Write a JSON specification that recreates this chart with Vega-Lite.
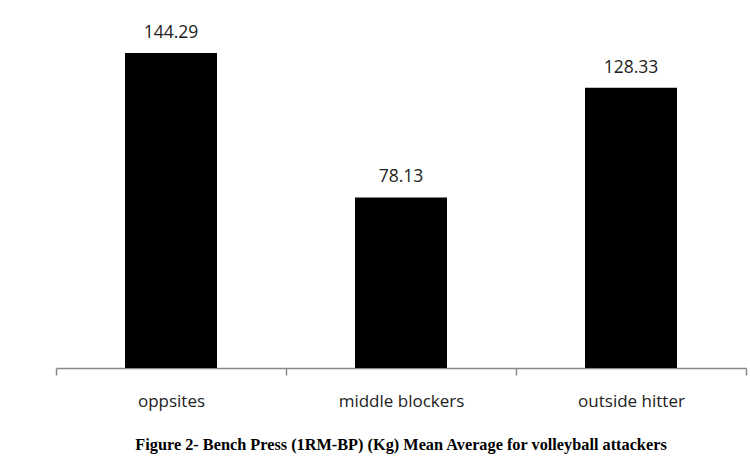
{
  "$schema": "https://vega.github.io/schema/vega-lite/v6.json",
  "autosize": "none",
  "width": 690,
  "height": 358,
  "padding": {"left": 56, "top": 10, "right": 4, "bottom": 103},
  "background": "white",
  "config": {"view": {"stroke": null}},
  "title": {
    "text": "Figure 2- Bench Press (1RM-BP) (Kg) Mean Average for volleyball attackers",
    "orient": "bottom",
    "anchor": "middle",
    "font": "Liberation Serif",
    "fontSize": 16.3,
    "fontWeight": "bold",
    "color": "black",
    "offset": 28
  },
  "data": {
    "values": [
      {"position": "oppsites", "value": 144.29},
      {"position": "middle blockers", "value": 78.13},
      {"position": "outside hitter", "value": 128.33}
    ]
  },
  "encoding": {
    "x": {
      "field": "position",
      "type": "nominal",
      "sort": null,
      "scale": {"paddingInner": 0, "paddingOuter": 0},
      "axis": {
        "title": null,
        "labelAngle": 0,
        "tickBand": "extent",
        "domainColor": "#888888",
        "domainWidth": 1.5,
        "tickColor": "#888888",
        "tickWidth": 1.5,
        "tickSize": 7,
        "labelFont": "Open Sans",
        "labelFontSize": 17,
        "labelColor": "#222222",
        "labelPadding": 18
      }
    },
    "y": {
      "field": "value",
      "type": "quantitative",
      "scale": {"domain": [0, 164]},
      "axis": null
    }
  },
  "layer": [
    {"mark": {"type": "bar", "color": "black", "width": {"band": 0.4}}},
    {
      "mark": {"type": "text", "dy": -20, "font": "Open Sans", "fontSize": 17.5, "color": "#222222"},
      "encoding": {"text": {"field": "value", "type": "quantitative", "format": ".2f"}}
    }
  ]
}
